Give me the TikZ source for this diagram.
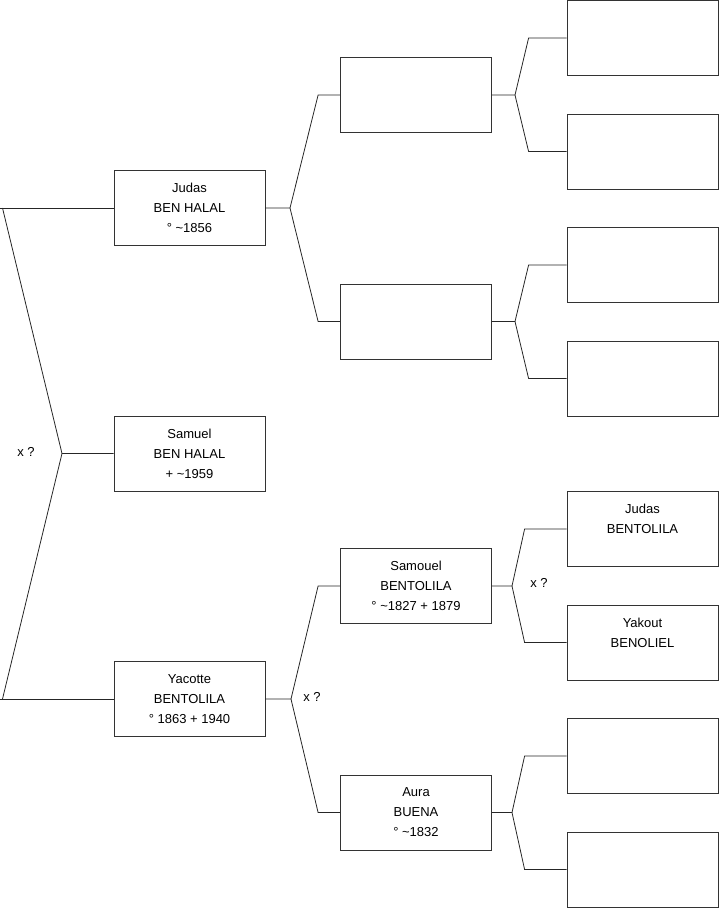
\documentclass[tikz,border=0pt]{standalone}
\usepackage{fontspec}
\setmainfont{Liberation Sans}
\usetikzlibrary{calc}

\begin{document}
\begin{tikzpicture}[
    x=1pt, y=-1pt,
    every node/.style={font=\fontsize{13}{20}\selectfont},
    personbox/.style={
      rectangle, draw=black!80, line width=0.8pt, fill=white,
      minimum width=151pt, minimum height=75pt, align=center, inner sep=0pt
    },
    link/.style={line width=0.8pt, black!85}
  ]
    \useasboundingbox (0,0) rectangle (719,908);

    % Generation 1
    \node[personbox] (judas) at (189.5,208) {Judas\\BEN HALAL\\° \textasciitilde1856};
    \node[personbox] (samuel) at (189.5,453.5) {Samuel\\BEN HALAL\\+ \textasciitilde1959};
    \node[personbox] (yacotte) at (189.5,699) {Yacotte\\BENTOLILA\\° 1863 + 1940};

    % Generation 2
    \node[personbox] (pj) at (416,95) {};
    \node[personbox] (mj) at (416,321.5) {};
    \node[personbox] (samouel) at (416,586) {Samouel\\BENTOLILA\\° \textasciitilde1827 + 1879};
    \node[personbox] (aura) at (416,812.5) {Aura\\BUENA\\° \textasciitilde1832};

    % Generation 3
    \node[personbox] (ppj) at (642.5,38) {};
    \node[personbox] (mpj) at (642.5,151.5) {};
    \node[personbox] (pmj) at (642.5,265) {};
    \node[personbox] (mmj) at (642.5,378.5) {};
    \node[personbox] (judasb) at (642.5,529) {Judas\\BENTOLILA\\\mbox{}};
    \node[personbox] (yakout) at (642.5,642.5) {Yakout\\BENOLIEL\\\mbox{}};
    \node[personbox] (pa) at (642.5,756) {};
    \node[personbox] (ma) at (642.5,869.5) {};

    % Parents of Samuel
    \coordinate (top) at (0,208);
    \coordinate (bot) at (0,699);
    \coordinate (j0) at (62,453.5);
    \draw[link] (top) -- (judas.west);
    \draw[link] ([xshift=2.5pt]top) -- (j0) -- (samuel.west);
    \draw[link] (j0) -- ([xshift=2.5pt]bot);
    \draw[link] (bot) -- (yacotte.west);
    \node at (26,452) {x ?};

    % Forks to the next generation
    \coordinate (j1) at (290,208);
    \draw[link] (judas.east) -- (j1) -- ([xshift=-22pt]pj.west) -- (pj.west);
    \draw[link] (j1) -- ([xshift=-22pt]mj.west) -- (mj.west);

    \coordinate (j2) at (291,699);
    \draw[link] (yacotte.east) -- (j2) -- ([xshift=-22pt]samouel.west) -- (samouel.west);
    \draw[link] (j2) -- ([xshift=-22pt]aura.west) -- (aura.west);
    \node at (312,697) {x ?};

    \coordinate (j3) at (515,95);
    \draw[link] (pj.east) -- (j3) -- ([xshift=-38pt]ppj.west) -- (ppj.west);
    \draw[link] (j3) -- ([xshift=-38pt]mpj.west) -- (mpj.west);

    \coordinate (j4) at (515,321.5);
    \draw[link] (mj.east) -- (j4) -- ([xshift=-38pt]pmj.west) -- (pmj.west);
    \draw[link] (j4) -- ([xshift=-38pt]mmj.west) -- (mmj.west);

    \coordinate (j5) at (512,586);
    \draw[link] (samouel.east) -- (j5) -- ([xshift=-42pt]judasb.west) -- (judasb.west);
    \draw[link] (j5) -- ([xshift=-42pt]yakout.west) -- (yakout.west);
    \node at (539,583) {x ?};

    \coordinate (j6) at (512,812.5);
    \draw[link] (aura.east) -- (j6) -- ([xshift=-42pt]pa.west) -- (pa.west);
    \draw[link] (j6) -- ([xshift=-42pt]ma.west) -- (ma.west);

  \end{tikzpicture}
\end{document}
